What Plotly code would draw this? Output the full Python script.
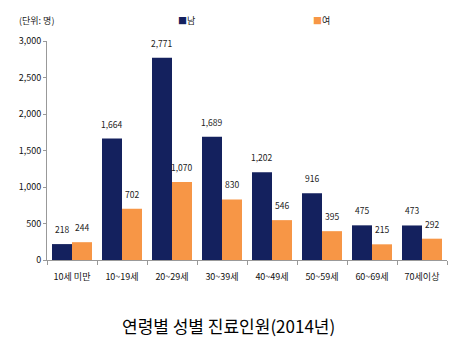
import plotly.graph_objects as go

categories = ["10세 미만", "10~19세", "20~29세", "30~39세", "40~49세", "50~59세", "60~69세", "70세이상"]
male = [218, 1664, 2771, 1689, 1202, 916, 475, 473]
female = [244, 702, 1070, 830, 546, 395, 215, 292]
series_names = ["남", "여"]
colors = ["#14215E", "#F79646"]
yticks = [0, 500, 1000, 1500, 2000, 2500, 3000]

FONT = "Noto Sans CJK KR"

W, H = 451, 340
ml, mr, mt, mb = 47, 4, 41, 80
pw, ph = W - ml - mr, H - mt - mb


def px(x):
    return (x - ml) / pw


def py(y):
    return (H - mb - y) / ph


fig = go.Figure()
for name, vals, col in zip(series_names, [male, female], colors):
    fig.add_trace(go.Bar(
        x=categories, y=vals, name=name, marker=dict(color=col, line=dict(width=0)),
        showlegend=False, hoverinfo="x+y",
    ))

annotations = []
# value labels above bars
for vals, off in zip([male, female], [-0.2, 0.2]):
    for j, v in enumerate(vals):
        annotations.append(dict(
            x=j + off, y=v, xref="x", yref="y", text=f"{v:,}", showarrow=False,
            yanchor="bottom", yshift=7, font=dict(family=FONT, size=8.5, color="#222"),
        ))

# unit label
annotations.append(dict(x=px(17), y=py(20), xref="paper", yref="paper", text="(단위: 명)",
                        showarrow=False, xanchor="left", yanchor="middle",
                        font=dict(family=FONT, size=9, color="#222")))
# legend as annotations
for name, col, lx in zip(series_names, colors, [176, 311]):
    annotations.append(dict(
        x=px(lx), y=py(20), xref="paper", yref="paper",
        text=f"<span style='color:{col}'>■</span>{name}", showarrow=False,
        xanchor="left", yanchor="middle", font=dict(family=FONT, size=9, color="#222"),
    ))
# bottom title
annotations.append(dict(
    x=px(228), y=py(325), xref="paper", yref="paper", text="연령별 성별 진료인원(2014년)",
    showarrow=False, xanchor="center", yanchor="middle",
    font=dict(family=FONT, size=17, color="#000"),
))

fig.update_layout(
    width=W, height=H,
    margin=dict(l=ml, r=mr, t=mt, b=mb, pad=0),
    paper_bgcolor="white", plot_bgcolor="white",
    barmode="group", bargap=0.2, bargroupgap=0,
    annotations=annotations,
    font=dict(family=FONT, size=9, color="#222"),
    xaxis=dict(
        showline=True, linecolor="#999", linewidth=1, tickson="boundaries",
        ticks="outside", ticklen=4, tickcolor="#999", showgrid=False,
        ticklabelstandoff=8,
        tickfont=dict(family=FONT, size=9, color="#111"),
    ),
    yaxis=dict(
        range=[0, 3000], tickvals=yticks, tickformat=",", showline=True,
        linecolor="#999", linewidth=1, ticks="outside", ticklen=3, tickcolor="#999",
        showgrid=False, zeroline=False, tickfont=dict(family=FONT, size=9, color="#111"),
    ),
)

fig.write_html("out.html")
